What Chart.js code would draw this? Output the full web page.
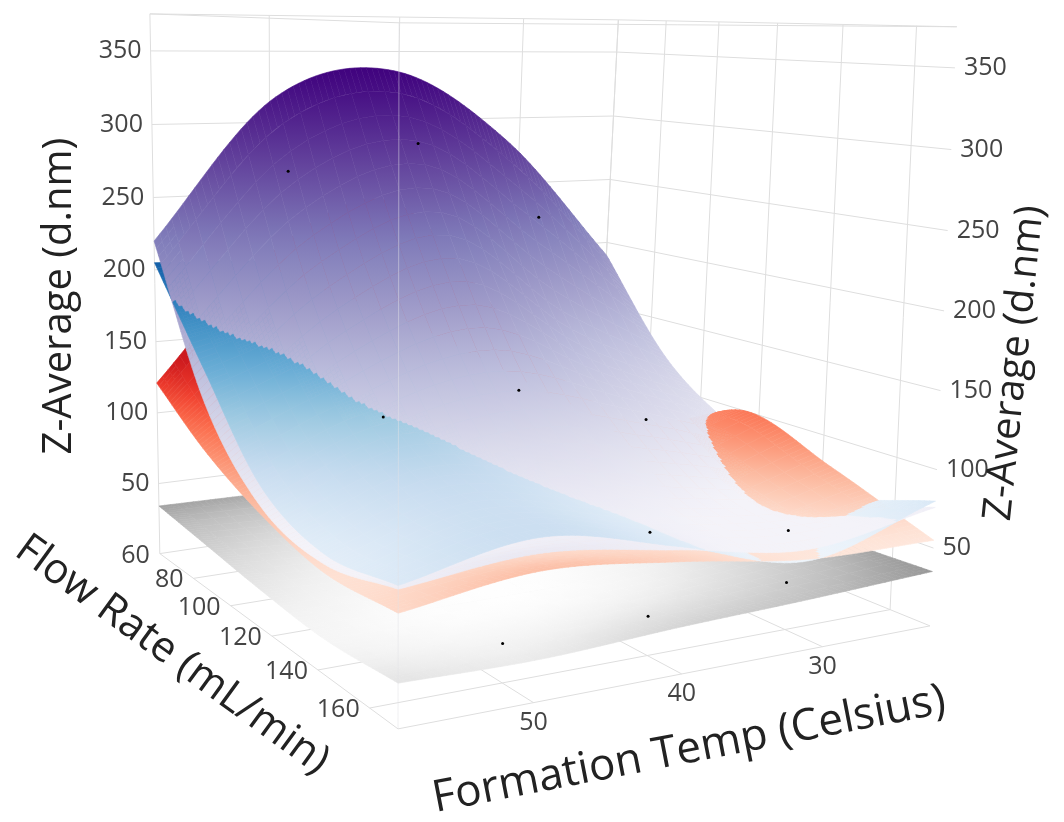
<!DOCTYPE html>
<html lang="en">
<head>
<meta charset="UTF-8">
<title>Z-Average response surfaces</title>
<script src="https://cdn.jsdelivr.net/npm/chart.js"></script>
<style>
  html, body { margin: 0; padding: 0; background: #fff; }
  canvas { display: block; }
</style>
</head>
<body>
<canvas id="chart" width="1064" height="822"></canvas>
<script>
// values
const temps = [58.7, 49.5, 40.4, 31.2, 22];
const flows = [60, 87.5, 115, 142.5, 170];

const purpleZ = [
  [220, 318, 336, 284, 190],
  [124, 195, 225, 165, 120],
  [ 77, 118, 132, 110,  82],
  [ 65,  72,  80,  70,  55],
  [ 76,  84,  74,  62,  76]
];
const blueZ = [
  [205, 200, 180, 120,  60],
  [146, 168, 150, 100,  60],
  [ 90, 120, 100,  80,  60],
  [ 71,  95,  79,  55,  60],
  [ 78,  93,  76,  55,  80]
];
const redZ = [
  [121, 210, 240, 150,  55],
  [ 92, 140, 150, 100,  68],
  [ 72,  85,  90,  78, 100],
  [ 60,  62,  62,  60,  80],
  [ 63,  74,  67,  56,  55]
];
const greyZ = [
  [34, 33, 32, 32, 33],
  [29, 25, 24, 26, 32],
  [24, 20, 19, 23, 32],
  [21, 19, 20, 25, 33],
  [25, 24, 28, 31, 35]
];

const dotTemp = [50, 40, 30, 50, 40, 30, 40, 30, 50, 40, 30];
const dotFlow = [70, 70, 70, 115, 115, 115, 160, 160, 160, 160, 160];
const dotZ = [268, 285, 227, 124, 132, 102, 75, 63, 23, 24, 30];

const zTicks = [50, 100, 150, 200, 250, 300, 350];
const flowTicks = [60, 80, 100, 120, 140, 160];
const tempTicks = [50, 40, 30];

// box and camera
const tempRange = [58.7, 22];
const flowRange = [170, 60];
const zRange = [0, 375];
const floorBox = { f: [397, 732], r: [933, 628], l: [157, 555], b: [595, 490] };
const topBox = { f: [398, 19], r: [960, 23], l: [147, 10], b: [619, 16] };
const warp = { u: 1.1, v: 1.35, w: 0.97 };

const squeeze = (t, k) => t * k / (1 + t * (k - 1));
const fracs = (temp, flow, z) => ({
  u: (tempRange[0] - temp) / (tempRange[0] - tempRange[1]),
  v: (flowRange[0] - flow) / (flowRange[0] - flowRange[1]),
  w: (z - zRange[0]) / (zRange[1] - zRange[0])
});
function project(temp, flow, z) {
  const { u, v, w } = fracs(temp, flow, z);
  const a = squeeze(u, warp.u), b = squeeze(v, warp.v), c = squeeze(w, warp.w);
  const plane = (box, i) =>
    (1 - b) * ((1 - a) * box.f[i] + a * box.r[i]) + b * ((1 - a) * box.l[i] + a * box.b[i]);
  return {
    x: plane(floorBox, 0) * (1 - c) + plane(topBox, 0) * c,
    y: plane(floorBox, 1) * (1 - c) + plane(topBox, 1) * c
  };
}
const depth = (temp, flow, z) => {
  const { u, v, w } = fracs(temp, flow, z);
  return (warp.u - 1) * u + (warp.v - 1) * v + (warp.w - 1) * w;
};

// smoothing between the read values, only for drawing
function spline(p, s) {
  const n = p.length - 1;
  const i = Math.min(Math.floor(s), n - 1), t = s - i;
  const p1 = p[i], p2 = p[i + 1];
  const p0 = i > 0 ? p[i - 1] : 2 * p1 - p2;
  const p3 = i + 2 <= n ? p[i + 2] : 2 * p2 - p1;
  return 0.5 * (2 * p1 + (p2 - p0) * t + (2 * p0 - 5 * p1 + 4 * p2 - p3) * t * t + (3 * p1 - p0 - 3 * p2 + p3) * t * t * t);
}
const surfaceAt = (table, r, c) => spline(table.map(row => spline(row, c)), r);
const along = (list, s) => {
  const i = Math.min(Math.floor(s), list.length - 2);
  return list[i] + (list[i + 1] - list[i]) * (s - i);
};

function ramp(stops, t) {
  t = Math.max(0, Math.min(1, t)) * (stops.length - 1);
  const i = Math.min(Math.floor(t), stops.length - 2), f = t - i;
  const hex = h => [1, 3, 5].map(k => parseInt(h.substr(k, 2), 16));
  const a = hex(stops[i]), b = hex(stops[i + 1]);
  return `rgb(${a.map((x, k) => Math.round(x + (b[k] - x) * f)).join(',')})`;
}
const purples = ['#f4f3f9', '#dadaeb', '#bcbddc', '#9e9ac8', '#807dba', '#6a51a3', '#54278f', '#3f007d'];
const blues = ['#f0f6fc', '#deebf7', '#c6dbef', '#9ecae1', '#6baed6', '#4292c6', '#2171b5', '#08519c'];
const reds = ['#fff5f0', '#fee0d2', '#fcbba1', '#fc9272', '#fb6a4a', '#ef3b2c', '#cb181d'];
const greys = ['#ffffff', '#f0f0f0', '#d9d9d9', '#bdbdbd', '#8c8c8c'];

const surfaces = [
  { table: purpleZ, stops: purples, low: 68, high: 335 },
  { table: blueZ, stops: blues, low: 52, high: 215 },
  { table: redZ, stops: reds, low: 45, high: 135 },
  { table: greyZ, stops: greys, low: 18, high: 36 }
];

const canvas = document.getElementById('chart');
const ctx = canvas.getContext('2d');
const quads = [];

function addQuad(sf, r0, r1, c0, c1) {
  const point = (r, c) => {
    const z = surfaceAt(sf.table, r, c);
    return { ...project(along(temps, c), along(flows, r), z), z };
  };
  const A = point(r0, c0), B = point(r0, c1), C = point(r1, c1), D = point(r1, c0);
  const color = z => ramp(sf.stops, (z - sf.low) / (sf.high - sf.low));
  const rm = (r0 + r1) / 2, cm = (c0 + c1) / 2, zm = surfaceAt(sf.table, rm, cm);
  // colour follows z across the patch
  let paint = color(zm);
  const bx = B.x - A.x, by = B.y - A.y, dx = D.x - A.x, dy = D.y - A.y;
  const det = bx * dy - by * dx;
  if (Math.abs(det) > 1e-3) {
    const gx = ((B.z - A.z) * dy - (D.z - A.z) * by) / det;
    const gy = ((D.z - A.z) * bx - (B.z - A.z) * dx) / det;
    const len = gx * gx + gy * gy;
    const zLow = Math.min(A.z, B.z, C.z, D.z), zHigh = Math.max(A.z, B.z, C.z, D.z);
    if (len > 1e-9 && zHigh - zLow > 1e-3) {
      paint = ctx.createLinearGradient(
        A.x + gx * (zLow - A.z) / len, A.y + gy * (zLow - A.z) / len,
        A.x + gx * (zHigh - A.z) / len, A.y + gy * (zHigh - A.z) / len);
      paint.addColorStop(0, color(zLow));
      paint.addColorStop(1, color(zHigh));
    }
  }
  // the surface that is above at this spot leans to the front
  let d = depth(along(temps, cm), along(flows, rm), zm);
  surfaces.forEach(other => {
    if (other === sf) return;
    const gap = zm - surfaceAt(other.table, rm, cm);
    d -= 0.012 * Math.max(-1, Math.min(1, gap / 4));
  });
  const xy = p => ({ x: p.x, y: p.y });
  quads.push({
    d,
    set: {
      data: [xy(A), xy(B), xy(C), xy(D), xy(A)],
      showLine: true, fill: 'shape', backgroundColor: paint, borderColor: paint,
      borderWidth: 0.6, pointRadius: 0
    }
  });
}

// cells are split finer where surfaces cross and along the outer edges
const steps = 28;
surfaces.forEach(sf => {
  const rows = sf.table.length - 1, cols = sf.table[0].length - 1;
  for (let i = 0; i < steps; i++) {
    for (let j = 0; j < steps; j++) {
      const r0 = i / steps * rows, r1 = (i + 1) / steps * rows;
      const c0 = j / steps * cols, c1 = (j + 1) / steps * cols;
      const crosses = surfaces.some(other => {
        if (other === sf) return false;
        const diff = (r, c) => surfaceAt(sf.table, r, c) - surfaceAt(other.table, r, c);
        const d = [diff(r0, c0), diff(r0, c1), diff(r1, c0), diff(r1, c1)];
        return Math.min(...d) < 0 && Math.max(...d) > 0;
      });
      let nr = crosses ? 5 : 1, nc = crosses ? 5 : 1;
      if (j === 0 || j === steps - 1) nr = Math.max(nr, 3);
      if (i === 0 || i === steps - 1) nc = Math.max(nc, 3);
      for (let a = 0; a < nr; a++) {
        for (let b = 0; b < nc; b++) {
          addQuad(sf, r0 + (r1 - r0) * a / nr, r0 + (r1 - r0) * (a + 1) / nr,
            c0 + (c1 - c0) * b / nc, c0 + (c1 - c0) * (b + 1) / nc);
        }
      }
    }
  }
});
quads.sort((a, b) => a.d - b.d);

const line = (pts, color) => ({ data: pts, showLine: true, fill: false, borderColor: color, borderWidth: 1, pointRadius: 0 });
const gridColor = '#dedede';
const [tA, tB] = tempRange, [fA, fB] = flowRange, [zA, zB] = zRange;
const grid = [];
zTicks.forEach(z => grid.push(line([project(tA, fB, z), project(tB, fB, z), project(tB, fA, z)], gridColor)));
tempTicks.forEach(t => grid.push(line([project(t, fA, zA), project(t, fB, zA), project(t, fB, zB)], gridColor)));
flowTicks.forEach(f => grid.push(line([project(tA, f, zA), project(tB, f, zA), project(tB, f, zB)], gridColor)));
grid.push(line([project(tA, fB, zB), project(tA, fB, zA), project(tA, fA, zA), project(tB, fA, zA), project(tB, fB, zA), project(tB, fB, zB)], gridColor));
grid.push(line([project(tA, fB, zB), project(tB, fB, zB), project(tB, fA, zB), project(tA, fA, zB), project(tA, fB, zB)], gridColor));

const frontEdge = line([project(tA, fA, zA), project(tA, fA, zB)], 'rgba(225,225,230,0.5)');
const dots = {
  data: dotTemp.map((t, i) => project(t, dotFlow[i], dotZ[i])),
  showLine: false, pointRadius: 1.5, pointBackgroundColor: '#000', pointBorderWidth: 0
};

const axisText = {
  id: 'axisText',
  afterDraw(chart) {
    const { ctx, scales } = chart;
    const put = (text, p, dx, dy, align) => {
      ctx.textAlign = align;
      ctx.fillText(text, scales.x.getPixelForValue(p.x) + dx, scales.y.getPixelForValue(p.y) + dy);
    };
    ctx.save();
    ctx.textBaseline = 'middle';
    ctx.fillStyle = '#444';
    ctx.font = '25px "Open Sans"';
    zTicks.forEach(z => {
      put(String(z), project(tA, fB, z), -9, 0, 'right');
      put(String(z), project(tB, fA, z), 9, 0, 'left');
    });
    flowTicks.forEach(f => put(String(f), project(tA, f, zA), -10, 2, 'right'));
    tempTicks.forEach(t => put(String(t), project(t, fA, zA), 0, 20, 'center'));
    ctx.fillStyle = '#222';
    ctx.textAlign = 'center';
    const title = (text, size, x, y, deg) => {
      ctx.save();
      ctx.font = size + 'px "Open Sans"';
      ctx.translate(x, y);
      ctx.rotate(deg * Math.PI / 180);
      ctx.fillText(text, 0, 0);
      ctx.restore();
    };
    title('Z-Average (d.nm)', 40, 60, 296, -90);
    title('Z-Average (d.nm)', 40, 1015, 363, -84);
    title('Flow Rate (mL/min)', 42, 172, 655, 36);
    title('Formation Temp (Celsius)', 44, 689, 750, -11);
    ctx.restore();
  }
};

new Chart(canvas, {
  type: 'scatter',
  data: { datasets: [dots, frontEdge, ...quads.map(q => q.set), ...grid] },
  options: {
    responsive: false,
    animation: false,
    events: [],
    layout: { padding: 0 },
    plugins: { legend: { display: false }, tooltip: { enabled: false } },
    scales: {
      x: { type: 'linear', display: false, min: 0, max: 1064 },
      y: { type: 'linear', display: false, min: 0, max: 822, reverse: true }
    }
  },
  plugins: [axisText]
});
</script>
</body>
</html>
